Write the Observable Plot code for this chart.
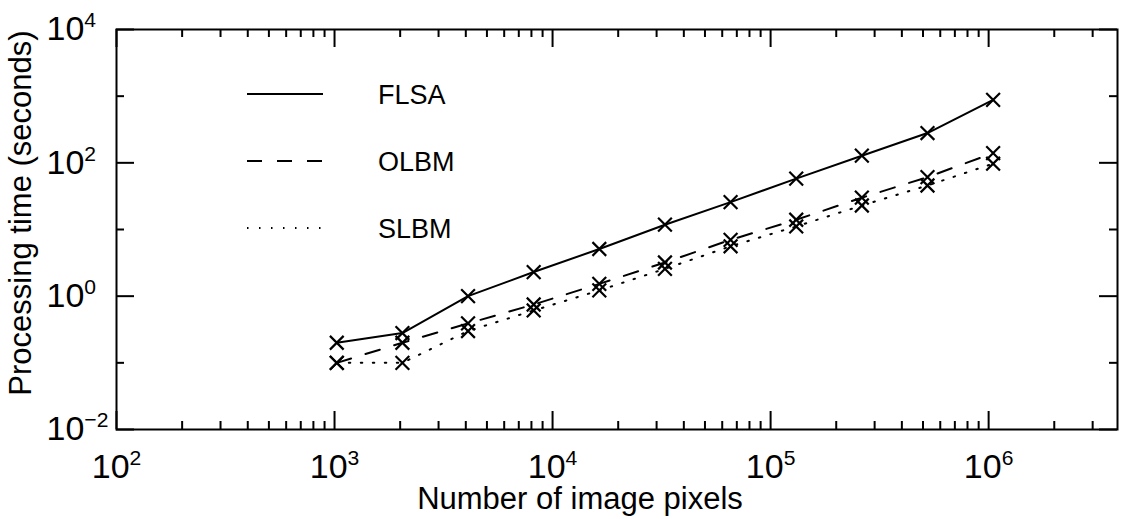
<!DOCTYPE html>
<html><head><meta charset="utf-8">
<script src="https://cdn.jsdelivr.net/npm/d3@7"></script>
<script src="https://cdn.jsdelivr.net/npm/@observablehq/plot@0.6"></script>
<style>
html,body{margin:0;padding:0;background:#fff;}
#wrap{position:relative;width:1122px;height:519px;font-family:"Liberation Sans",Arial,sans-serif;}
#legend{position:absolute;left:0;top:0;pointer-events:none;}
</style></head><body><div id="wrap"></div>
<script>
// ---- data ----
const pixels = [1024, 2048, 4096, 8192, 16384, 32768, 65536, 131072, 262144, 524288, 1048576];
const flsa = [0.20, 0.28, 1.0, 2.3, 5.1, 11.8, 25.7, 58, 128, 280, 880];
const olbm = [0.10, 0.20, 0.39, 0.75, 1.53, 3.2, 7.0, 14, 30, 61, 140];
const slbm = [0.10, 0.10, 0.30, 0.61, 1.22, 2.57, 5.6, 11.1, 22.9, 45.7, 97];
const seriesNames = ["FLSA", "OLBM", "SLBM"];
const xTickValues = [1e2, 1e3, 1e4, 1e5, 1e6];
const xTickExponents = ["2", "3", "4", "5", "6"];
const yTickValues = [1e-2, 1e0, 1e2, 1e4];
const yTickExponents = ["\u22122", "0", "2", "4"];
const yMinorTicks = [1e-1, 1e1, 1e3];
const minorMultipliers = [2, 3, 4, 5, 6, 7, 8, 9];
const minorDecades = [1e2, 1e3, 1e4, 1e5, 1e6];
const xLabel = "Number of image pixels";
const yLabel = "Processing time (seconds)";

// ---- build ----
const seriesValues = [flsa, olbm, slbm];
const rows = [];
seriesNames.forEach((s, i) => pixels.forEach((p, j) => rows.push({series: s, pixels: p, time: seriesValues[i][j]})));
const xDomain = [1e2, 3.9e6];
const xMinorTicks = [];
minorDecades.forEach(d => minorMultipliers.forEach(m => { if (d * m < xDomain[1]) xMinorTicks.push(d * m); }));

const W = 1122, H = 519, mL = 116, mR = 5, mT = 29, mB = 90;
const iw = W - mL - mR, ih = H - mT - mB;
const majorLen = 18, minorLen = 8;
const dashes = {FLSA: null, OLBM: "15,15", SLBM: "1.5,10.5"};
const tickFont = 34, labelFont = 31, legendFont = 27;
const fontFamily = '"Liberation Sans", Arial, sans-serif';
const xFmt = d => "10^" + xTickExponents[xTickValues.indexOf(d)];
const yFmt = d => "10^" + yTickExponents[yTickValues.indexOf(d)];
const tickStroke = {stroke: "black", strokeWidth: 2};

const plot = Plot.plot({
  width: W, height: H,
  marginLeft: mL, marginRight: mR, marginTop: mT, marginBottom: mB,
  style: {fontFamily, fontSize: tickFont + "px", color: "black", background: "white", overflow: "visible"},
  x: {type: "log", domain: xDomain},
  y: {type: "log", domain: [1e-2, 1e4]},
  marks: [
    // inward ticks on all four sides
    Plot.ruleX(xTickValues, {x: d => d, insetTop: ih - majorLen, ...tickStroke}),
    Plot.ruleX(xTickValues, {x: d => d, insetBottom: ih - majorLen, ...tickStroke}),
    Plot.ruleX(xMinorTicks, {x: d => d, insetTop: ih - minorLen, ...tickStroke}),
    Plot.ruleX(xMinorTicks, {x: d => d, insetBottom: ih - minorLen, ...tickStroke}),
    Plot.ruleY(yTickValues, {y: d => d, insetRight: iw - majorLen, ...tickStroke}),
    Plot.ruleY(yTickValues, {y: d => d, insetLeft: iw - majorLen, ...tickStroke}),
    Plot.ruleY(yMinorTicks, {y: d => d, insetRight: iw - minorLen, ...tickStroke}),
    Plot.ruleY(yMinorTicks, {y: d => d, insetLeft: iw - minorLen, ...tickStroke}),
    // series
    ...seriesNames.map(s => Plot.line(rows.filter(r => r.series === s), {
      x: "pixels", y: "time", stroke: "black", strokeWidth: 2, strokeDasharray: dashes[s]
    })),
    Plot.dot(rows, {x: "pixels", y: "time", symbol: "times", r: 6.3, stroke: "black", strokeWidth: 2.2}),
    Plot.frame({stroke: "black", strokeWidth: 2}),
    Plot.axisX({ticks: xTickValues, tickSize: 0, tickPadding: 24, tickFormat: xFmt, label: null}),
    Plot.axisY({ticks: yTickValues, tickSize: 0, tickPadding: 70, tickFormat: yFmt, label: null})
  ]
});

// superscripts in tick labels; y labels aligned on the "10"
d3.select(plot).selectAll("text").each(function() {
  const t = this.textContent;
  if (/^10\^/.test(t)) {
    const exp = t.slice(3);
    const sel = d3.select(this);
    sel.text("10");
    sel.append("tspan").attr("dy", "-0.62em").attr("font-size", "0.62em").text(exp);
    const g = this.closest("g[aria-label]");
    if (g && /y-axis/.test(g.getAttribute("aria-label"))) sel.attr("text-anchor", "start");
  }
});

// axis titles
const svg = d3.select(plot);
svg.append("text").attr("x", 580).attr("y", 509).attr("text-anchor", "middle")
  .attr("font-size", labelFont + "px").attr("font-family", fontFamily).attr("fill", "black").text(xLabel);
svg.append("text").attr("transform", "translate(31,213) rotate(-90)").attr("text-anchor", "middle")
  .attr("font-size", labelFont + "px").attr("font-family", fontFamily).attr("fill", "black").text(yLabel);

const wrap = document.getElementById("wrap");
wrap.appendChild(plot);

// legend overlay
const legendY = [94, 161, 228];
const lg = d3.select(wrap).append("svg").attr("id", "legend").attr("width", W).attr("height", H);
seriesNames.forEach((s, i) => {
  lg.append("line").attr("x1", 247).attr("x2", 323).attr("y1", legendY[i]).attr("y2", legendY[i])
    .attr("stroke", "black").attr("stroke-width", 2).attr("stroke-dasharray", dashes[s]);
  lg.append("text").attr("x", 378).attr("y", legendY[i]).attr("dy", "0.36em")
    .attr("font-size", legendFont + "px").attr("font-family", fontFamily).text(s);
});
</script></body></html>
